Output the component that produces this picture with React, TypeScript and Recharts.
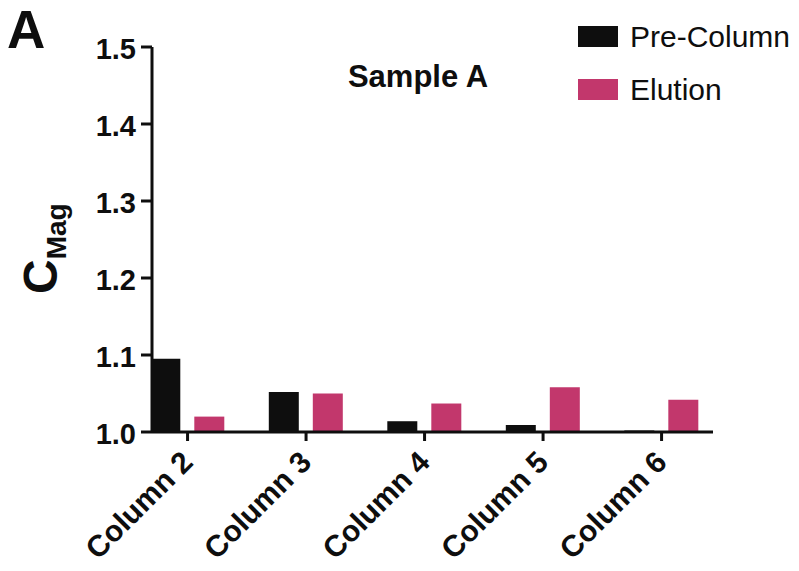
import { BarChart, Bar, XAxis, YAxis, Legend } from 'recharts'

// Sample A - C_Mag por coluna
const columns = ['Column 2', 'Column 3', 'Column 4', 'Column 5', 'Column 6']
const preColumn = [1.095, 1.052, 1.014, 1.009, 1.002]
const elution = [1.02, 1.05, 1.037, 1.058, 1.042]
const yTicks = [1.0, 1.1, 1.2, 1.3, 1.4, 1.5]

const data = columns.map((name, i) => ({
  idx: i,
  name,
  pre: preColumn[i],
  elution: elution[i],
}))

const FONT = '"Liberation Sans", Arial, Helvetica, sans-serif'
const BLACK = '#0e0e0e'
const PINK = '#c2376c'

// rótulos inclinados a -45°
const ColumnTick = ({ x, y, payload }: any) => {
  const ax = x + 7
  const ay = y + 21
  return (
    <text
      x={ax}
      y={ay}
      transform={`rotate(-45 ${ax} ${ay})`}
      textAnchor="end"
      fontFamily={FONT}
      fontSize={30}
      fontWeight={700}
      fill={BLACK}
    >
      {columns[payload.value]}
    </text>
  )
}

const renderLegend = () => {
  const items = [
    { label: 'Pre-Column', color: BLACK },
    { label: 'Elution', color: PINK },
  ]
  return (
    <div style={{ fontFamily: FONT }}>
      {items.map((it) => (
        <div key={it.label} style={{ display: 'flex', alignItems: 'center', height: 53 }}>
          <div style={{ width: 40, height: 21, backgroundColor: it.color, marginRight: 12 }} />
          <span style={{ fontSize: 30, color: BLACK, lineHeight: '30px' }}>{it.label}</span>
        </div>
      ))}
    </div>
  )
}

export default function App() {
  return (
    <div style={{ position: 'absolute', top: 0, left: 0, width: 799, height: 571, background: '#fff' }}>
      <BarChart
        width={799}
        height={571}
        data={data}
        margin={{ top: 47, right: 86, left: 0, bottom: 9 }}
        barSize={30}
        barGap={14}
      >
        <XAxis
          dataKey="idx"
          type="number"
          domain={[-0.3, 4.434]}
          ticks={[0, 1, 2, 3, 4]}
          allowDataOverflow
          height={130}
          axisLine={{ stroke: BLACK, strokeWidth: 3 }}
          tickLine={{ stroke: BLACK, strokeWidth: 3 }}
          tickSize={9}
          tick={<ColumnTick />}
        />
        <YAxis
          type="number"
          domain={[1, 1.5]}
          ticks={yTicks}
          allowDataOverflow
          width={152}
          axisLine={{ stroke: BLACK, strokeWidth: 3 }}
          tickLine={{ stroke: BLACK, strokeWidth: 3 }}
          tickSize={11}
          tickMargin={5}
          tickFormatter={(v: number) => v.toFixed(1)}
          tick={{ fontFamily: FONT, fontSize: 29, fontWeight: 700, fill: BLACK, dy: 2 }}
          label={() => {
            const lx = 57
            const ly = 294
            return (
              <text
                x={lx}
                y={ly}
                transform={`rotate(-90 ${lx} ${ly})`}
                fontFamily={FONT}
                fontWeight={700}
                fill={BLACK}
              >
                <tspan fontSize={48}>C</tspan>
                <tspan fontSize={28} dy={9}>Mag</tspan>
              </text>
            )
          }}
        />
        <Legend
          layout="vertical"
          align="center"
          verticalAlign="middle"
          content={renderLegend}
          wrapperStyle={{ top: 10, left: 578, width: 221 }}
        />
        <Bar dataKey="pre" fill={BLACK} isAnimationActive={false} />
        <Bar dataKey="elution" fill={PINK} isAnimationActive={false} />
        <text x={7} y={48} fontFamily={FONT} fontSize={53} fontWeight={700} fill={BLACK}>
          A
        </text>
        <text x={418} y={87} textAnchor="middle" fontFamily={FONT} fontSize={31} fontWeight={700} fill={BLACK}>
          Sample A
        </text>
      </BarChart>
    </div>
  )
}
